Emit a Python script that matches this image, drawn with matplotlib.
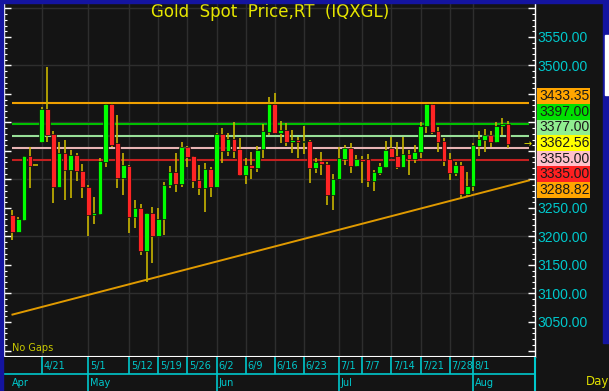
import numpy as np
import pandas as pd
import matplotlib
matplotlib.use("Agg")
import matplotlib.pyplot as plt
from matplotlib.patches import Rectangle
from matplotlib.ticker import MultipleLocator, FuncFormatter

# daily bars, gold spot
dates = pd.bdate_range("2025-04-14", "2025-08-11")
opens = [3237.6, 3208.3, 3228.8, 3341.1, 3324.7, 3365.7, 3423.0, 3379.7, 3286.1, 3347.0,
         3316.5, 3342.9, 3315.4, 3287.3, 3237.0, 3238.7, 3331.2, 3431.8, 3363.4, 3301.9,
         3323.6, 3234.7, 3250.4, 3175.0, 3240.5, 3200.7, 3230.0, 3290.2, 3313.6, 3292.0,
         3356.3, 3341.0, 3299.0, 3284.4, 3317.7, 3287.3, 3379.1, 3350.5, 3370.4, 3352.8,
         3307.8, 3324.7, 3319.5, 3352.8, 3383.8, 3431.8, 3382.0, 3386.7, 3365.7, 3369.2,
         3365.7, 3367.5, 3319.5, 3332.3, 3327.1, 3272.7, 3300.8, 3335.9, 3354.6, 3323.6,
         3335.9, 3335.3, 3297.8, 3311.9, 3321.2, 3354.6, 3341.0, 3322.4, 3344.6, 3335.9,
         3348.7, 3393.8, 3431.8, 3385.0, 3367.5, 3335.3, 3311.9, 3325.3, 3274.4, 3288.5,
         3358.7, 3369.2, 3378.0, 3366.3, 3393.8, 3397.3]
highs = [3246.4, 3234.7, 3342.0, 3356.3, 3324.7, 3427.7, 3497.9, 3385.6, 3366.3, 3369.2,
         3351.7, 3347.0, 3327.1, 3290.2, 3268.6, 3337.0, 3435.0, 3436.5, 3413.1, 3347.0,
         3325.3, 3263.9, 3256.3, 3240.5, 3252.2, 3250.4, 3296.0, 3323.6, 3345.8, 3366.3,
         3358.7, 3342.0, 3325.3, 3329.4, 3321.2, 3382.1, 3389.7, 3382.0, 3400.2, 3373.3,
         3337.0, 3348.7, 3358.7, 3397.3, 3444.1, 3451.1, 3402.5, 3398.5, 3386.7, 3375.0,
         3393.8, 3369.0, 3337.0, 3348.7, 3331.2, 3309.5, 3356.3, 3360.4, 3364.5, 3342.9,
         3341.0, 3344.6, 3316.5, 3329.4, 3367.4, 3373.9, 3366.3, 3373.9, 3351.7, 3360.4,
         3401.4, 3433.0, 3436.5, 3392.6, 3372.1, 3345.8, 3331.2, 3331.2, 3313.6, 3363.4,
         3385.0, 3388.5, 3385.0, 3401.4, 3407.2, 3402.5]
lows = [3193.7, 3208.0, 3228.0, 3284.4, 3324.7, 3363.4, 3366.3, 3259.2, 3286.0, 3263.9,
        3266.8, 3297.8, 3266.8, 3201.3, 3221.2, 3237.0, 3321.2, 3357.5, 3285.5, 3272.7,
        3206.6, 3214.2, 3167.4, 3120.6, 3152.8, 3200.7, 3202.5, 3284.4, 3278.5, 3286.0,
        3321.2, 3284.4, 3272.7, 3243.4, 3269.8, 3287.0, 3329.4, 3341.0, 3337.0, 3306.0,
        3292.0, 3300.2, 3313.6, 3337.0, 3378.0, 3382.0, 3363.4, 3358.7, 3345.8, 3337.0,
        3344.6, 3294.3, 3310.7, 3307.8, 3255.1, 3246.4, 3300.8, 3325.3, 3310.7, 3321.2,
        3294.3, 3286.1, 3280.3, 3307.8, 3319.5, 3340.0, 3317.7, 3321.2, 3307.8, 3329.4,
        3337.0, 3380.9, 3379.7, 3348.7, 3323.6, 3299.0, 3306.0, 3266.8, 3270.9, 3280.3,
        3341.0, 3347.6, 3356.3, 3364.5, 3378.0, 3354.6]
closes = [3208.3, 3230.0, 3341.1, 3323.6, 3324.7, 3423.0, 3378.0, 3286.1, 3347.0, 3316.5,
          3342.9, 3314.8, 3287.3, 3237.0, 3240.5, 3331.8, 3431.8, 3360.4, 3301.9, 3325.3,
          3234.7, 3250.4, 3175.0, 3240.5, 3200.7, 3230.0, 3290.2, 3313.6, 3292.0, 3356.3,
          3340.0, 3297.8, 3284.4, 3317.7, 3286.1, 3379.1, 3350.5, 3370.4, 3350.5, 3307.8,
          3324.7, 3319.5, 3351.7, 3385.0, 3431.8, 3382.0, 3386.7, 3366.3, 3369.2, 3365.7,
          3368.0, 3319.5, 3331.2, 3326.5, 3272.7, 3300.8, 3337.0, 3354.6, 3323.6, 3335.3,
          3333.0, 3297.8, 3313.6, 3323.6, 3351.7, 3340.0, 3322.4, 3344.6, 3335.9, 3348.7,
          3393.8, 3431.8, 3383.8, 3366.3, 3332.3, 3311.9, 3325.3, 3274.4, 3289.0, 3360.4,
          3370.4, 3378.0, 3366.3, 3393.8, 3397.3, 3362.56]

# horizontal levels drawn across the chart
level_vals = [3433.35, 3397.00, 3377.00, 3355.00, 3335.00]
level_cols = ["#f0a000", "#00c000", "#98e098", "#e8b4b4", "#c42020"]

# value boxes on the right
label_vals = [3433.35, 3397.00, 3377.00, 3362.56, 3355.00, 3335.00, 3288.82]
label_cols = ["#ffa500", "#00e000", "#90ee90", "#ffff00", "#ffc0cb", "#ff2020", "#ffa500"]

# rising trend line (two anchors)
trend_dates = ["2025-04-14", "2025-08-11"]
trend_vals = [3063.0, 3288.82]

tick_dates = ["2025-04-21", "2025-05-01", "2025-05-12", "2025-05-19", "2025-05-26",
              "2025-06-02", "2025-06-09", "2025-06-16", "2025-06-23", "2025-07-01",
              "2025-07-07", "2025-07-14", "2025-07-21", "2025-07-28", "2025-08-01"]

W, H = 609, 391
BG = "#141414"
CYAN = "#00c8cc"
BLUE = "#1414a0"
NARROW = ["Liberation Sans Narrow", "DejaVu Sans"]
plt.rcParams["font.family"] = ["Liberation Sans", "DejaVu Sans"]


def frac(x, y_top, w, h):
    return (x / W, 1 - (y_top + h) / H, w / W, h / H)


fig = plt.figure(figsize=(W / 100, H / 100), dpi=100, facecolor=BG)

ax = fig.add_axes(frac(4, 3, 531, 354))
ax.set_facecolor(BG)
x0, x1 = -1.45, 89.63
ax.set_xlim(x0, x1)
ax.set_ylim(2988.6, 3609.6)

o = np.array(opens)
hi = np.array(highs)
lo = np.array(lows)
c = np.array(closes)
xs = np.arange(len(dates))
flat = hi == lo
cols = np.where(c >= o, "#00ff00", "#ff2424")

ax.vlines(xs[~flat], lo[~flat], hi[~flat], color="#c8b400", lw=1.2, zorder=3)
ax.hlines(c[flat], xs[flat] - 0.45, xs[flat] + 0.45, color="#c8b400", lw=1.2, zorder=3)
body = np.maximum(np.abs(c - o), 0.8)
ax.bar(xs[~flat], body[~flat], 0.8, bottom=np.minimum(o, c)[~flat],
       color=cols[~flat], edgecolor="#0c0c0c", linewidth=0.5, zorder=4)

# levels + trend
line_end = 88.6
ax.hlines(level_vals, 0, line_end, colors=level_cols, lw=1.5, zorder=2)
tj = [dates.get_loc(pd.Timestamp(d)) for d in trend_dates]
slope = (trend_vals[1] - trend_vals[0]) / (tj[1] - tj[0])
ax.plot([tj[0], line_end], [trend_vals[0], trend_vals[0] + slope * (line_end - tj[0])],
        color="#e09a00", lw=1.4, zorder=2)
ax.text(88.3, closes[-1], "\u2192", color="#e8e800", fontsize=7, ha="center",
        va="center", zorder=5, family=["DejaVu Sans"])

# grid
tick_idx = [dates.get_loc(pd.Timestamp(d)) for d in tick_dates]
ax.set_xticks(tick_idx)
ax.tick_params(axis="x", length=0, labelbottom=False)
ax.grid(axis="x", color="#2e2e2e", lw=1, zorder=0.5)
for g in range(3100, 3700, 100):
    ax.axhline(g, color="#2e2e2e", lw=1, zorder=0.5)

# value boxes, stacked around their mean position
ypix = [ax.transData.transform((0, v))[1] for v in label_vals]
mid = np.mean(ypix)
step = 15.6
box_top = mid + 3.5 * step
box_bot = mid - 3.5 * step
inv = ax.transData.inverted()
p_top = inv.transform((0, box_top + 6))[1]
p_bot = inv.transform((0, box_bot - 6))[1]
for k, (v, col) in enumerate(zip(label_vals, label_cols)):
    yc = mid + (3 - k) * step
    fig.add_artist(Rectangle((537 / W, (yc - step / 2) / H), 53 / W, step / H,
                             transform=fig.transFigure, facecolor=col, edgecolor="none",
                             zorder=5))
    fig.text(539 / W, yc / H, f"{v:.2f}", color="#1a1a1a", fontsize=10,
             va="center", ha="left", zorder=6)


def price_label(v, pos):
    if v < 3040 or v > 3560 or p_bot < v < p_top:
        return ""
    return f"{v:.2f}"


ax.yaxis.set_major_locator(MultipleLocator(50))
ax.yaxis.set_minor_locator(MultipleLocator(10))
ax.yaxis.set_major_formatter(FuncFormatter(price_label))
ax.tick_params(axis="y", which="both", direction="in", left=True, right=True,
               labelleft=False, labelright=True, colors="white", labelcolor=CYAN,
               labelsize=10, pad=2)
ax.tick_params(axis="y", which="major", length=5, width=1)
ax.tick_params(axis="y", which="minor", length=2.5, width=0.8)
ax.spines["top"].set_visible(False)
for s in ["left", "right"]:
    ax.spines[s].set_color("white")
    ax.spines[s].set_linewidth(1)
ax.spines["bottom"].set_color("white")
ax.spines["bottom"].set_linewidth(1.5)

ax.text(0.015, 0.01, "No Gaps", transform=ax.transAxes, color="#c8c800",
        fontsize=7, family=NARROW, va="bottom", ha="left")

# date rows
ax2 = fig.add_axes(frac(4, 357, 531, 34))
ax2.set_facecolor(BG)
ax2.set_xlim(x0, x1)
ax2.set_ylim(0, 2)
ax2.set_xticks([])
ax2.set_yticks([])
for s in ax2.spines.values():
    s.set_visible(False)
ax2.hlines(1, x0, x1, color=CYAN, lw=1.2)
ax2.vlines(tick_idx, 1, 2, color=CYAN, lw=1.2)
month_idx = [j for j in range(1, len(dates)) if dates[j].month != dates[j - 1].month]
ax2.vlines(month_idx, 0, 1, color=CYAN, lw=1.2)
ax2.vlines(x1, 0, 2, color=CYAN, lw=1.5, clip_on=False)
for j in tick_idx:
    ax2.text(j + 0.3, 1.5, f"{dates[j].month}/{dates[j].day}", color=CYAN,
             fontsize=7, family=NARROW, va="center", ha="left")
for j in [0] + month_idx:
    ax2.text(j + 0.3 if j else -0.1, 0.5, dates[j].strftime("%b"), color=CYAN,
             fontsize=7, family=NARROW, va="center", ha="left")

# title / misc text
fig.text(270 / W, 1 - 12 / H, "Gold  Spot  Price,RT  (IQXGL)", color="#e6e600",
         fontsize=12, family=NARROW, ha="center", va="center")
fig.text(598 / W, 9 / H, "Day", color="#e0e000", fontsize=8.5, family=NARROW,
         ha="center", va="center")

# window borders
fig.add_artist(Rectangle((0, 1 - 3 / H), 1, 3 / H, transform=fig.transFigure,
                         color=BLUE, zorder=10))
fig.add_artist(Rectangle((0, 0), 3 / W, 1, transform=fig.transFigure, color=BLUE, zorder=10))
fig.add_artist(Rectangle((603 / W, 1 - 343 / H), 6 / W, 343 / H, transform=fig.transFigure,
                         color=BLUE, zorder=10))
fig.add_artist(Rectangle((605 / W, 1 - 95 / H), 4 / W, 60 / H, transform=fig.transFigure,
                         color="white", zorder=11))

fig.savefig("out.png", dpi=100, facecolor=BG)
